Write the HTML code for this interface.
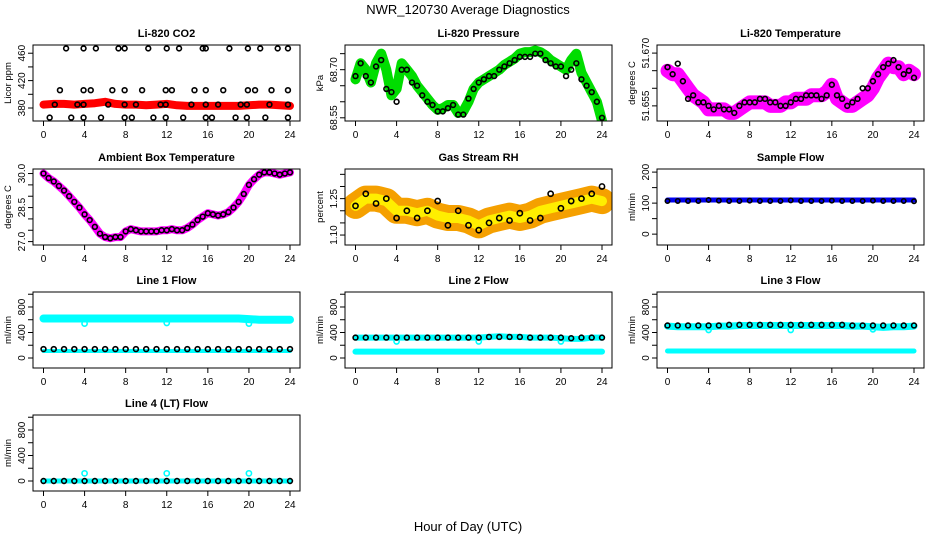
<!DOCTYPE html>
<html><head><meta charset="utf-8"><style>
body{margin:0;background:#fff;}
svg{display:block;font-family:"Liberation Sans",sans-serif;}
</style></head><body>
<svg id="c" width="936" height="540" viewBox="0 0 936 540">
<text x="468" y="14" text-anchor="middle" font-size="13">NWR_120730  Average Diagnostics</text>
<text x="468" y="531" text-anchor="middle" font-size="13">Hour of Day (UTC)</text>
</svg>
<script>
const hours=[0,1,2,3,4,5,6,7,8,9,10,11,12,13,14,15,16,17,18,19,20,21,22,23,24];
const halfHours=[0,0.5,1,1.5,2,2.5,3,3.5,4,4.5,5,5.5,6,6.5,7,7.5,8,8.5,9,9.5,10,10.5,11,11.5,12,12.5,13,13.5,14,14.5,15,15.5,16,16.5,17,17.5,18,18.5,19,19.5,20,20.5,21,21.5,22,22.5,23,23.5,24];
const xTicks=[0,4,8,12,16,20,24];
// CO2
const co2Red=[385,386,386,385,386,387,389,386,385,385,384,385,386,384,383,383,383,383,383,383,384,385,385,384,383];
const co2BlackHours=[2.2,3.9,5.1,7.3,7.9,10.2,12,13.2,15.5,15.8,18.1,19.9,21.1,22.8,23.8,1.6,3.9,4.6,6.7,7.9,9.6,11.9,12.5,14.7,15.8,17.5,19.9,20.6,22.2,23.8,1.1,3.3,3.9,6.3,7.9,9,11.4,11.9,14.4,15.8,17,19.2,19.8,22,23.8,0.6,2.7,3.9,5.6,7.9,8.6,10.7,11.9,13.6,15.8,16.4,18.7,19.8,21.6,23.8];
const co2BlackVals=[467,467,467,467,467,467,467,467,467,467,467,467,467,467,467,406,406,406,406,406,406,406,406,406,406,406,406,406,406,406,385,385,385,385,385,385,385,385,385,385,385,385,385,385,385,366,366,366,366,366,366,366,366,366,366,366,366,366,366,366];
// Pressure
const presGreen=[68.67,68.72,68.70,68.66,68.72,68.75,68.70,68.62,68.64,68.72,68.70,68.68,68.65,68.63,68.61,68.59,68.575,68.58,68.59,68.59,68.565,68.57,68.60,68.64,68.66,68.67,68.68,68.69,68.70,68.715,68.725,68.735,68.75,68.755,68.755,68.76,68.755,68.745,68.73,68.72,68.71,68.70,68.73,68.75,68.69,68.66,68.63,68.60,68.54];
const presBlack=[68.68,68.72,68.68,68.66,68.71,68.73,68.64,68.63,68.60,68.70,68.70,68.66,68.65,68.62,68.60,68.59,68.57,68.57,68.58,68.59,68.56,68.56,68.61,68.64,68.66,68.67,68.68,68.68,68.70,68.71,68.72,68.73,68.74,68.74,68.74,68.75,68.75,68.73,68.72,68.71,68.71,68.68,68.70,68.72,68.67,68.65,68.63,68.60,68.55];
// Li-820 temperature
const ltMag=[51.665,51.664,51.664,51.662,51.660,51.658,51.657,51.656,51.654,51.654,51.654,51.654,51.653,51.653,51.654,51.655,51.656,51.656,51.656,51.656,51.655,51.655,51.655,51.656,51.656,51.657,51.657,51.657,51.658,51.658,51.658,51.659,51.661,51.657,51.656,51.655,51.655,51.656,51.657,51.658,51.660,51.663,51.665,51.667,51.666,51.666,51.664,51.665,51.664];
const ltBlack=[51.666,51.664,51.667,51.662,51.657,51.658,51.656,51.656,51.655,51.654,51.655,51.654,51.654,51.653,51.655,51.656,51.656,51.656,51.657,51.657,51.656,51.656,51.655,51.655,51.656,51.657,51.657,51.658,51.658,51.658,51.657,51.658,51.661,51.658,51.657,51.655,51.656,51.657,51.660,51.660,51.662,51.664,51.666,51.667,51.668,51.666,51.664,51.665,51.663];
// Ambient
const ambMag=[30.0,29.8,29.65,29.45,29.25,29.0,28.75,28.5,28.2,27.95,27.65,27.35,27.2,27.15,27.2,27.2,27.45,27.55,27.5,27.45,27.45,27.45,27.45,27.5,27.5,27.55,27.5,27.5,27.6,27.75,27.95,28.1,28.25,28.2,28.15,28.2,28.3,28.5,28.75,29.1,29.5,29.75,29.95,30.05,30.05,30.0,29.95,30.0,30.05];
// RH
const rhOrange=[1.22,1.25,1.25,1.24,1.20,1.20,1.19,1.20,1.18,1.17,1.17,1.16,1.14,1.16,1.17,1.18,1.17,1.18,1.20,1.21,1.22,1.23,1.24,1.25,1.24];
const rhBlack=[1.22,1.27,1.23,1.25,1.17,1.20,1.17,1.20,1.24,1.14,1.20,1.14,1.12,1.15,1.17,1.16,1.19,1.16,1.17,1.27,1.21,1.24,1.25,1.27,1.30];
// Flows
const sampleBlue=[110,110,110,110,110,110,110,110,110,110,110,110,110,110,110,110,110,110,110,110,110,110,110,110,110];
const sampleBlack=[107,107,107,107,110,108,107,107,108,107,107,107,109,107,107,107,108,107,107,107,108,107,107,107,106];
const l1High=[620,620,620,620,620,620,620,620,620,620,620,620,620,620,620,620,620,620,620,620,610,600,600,600,600];
const l1Low=[110,110,110,110,110,110,110,110,110,110,110,110,110,110,110,110,110,110,110,110,110,110,110,110,110];
const l1Black=[140,140,140,140,140,140,140,140,140,140,140,140,140,140,140,140,140,140,140,140,140,140,140,140,140];
const l2High=[320,320,320,320,320,320,320,320,320,320,320,320,320,330,340,330,330,320,320,320,310,300,300,320,320];
const l2Low=[100,100,100,100,100,100,100,100,100,100,100,100,100,100,100,100,100,100,100,100,100,100,100,100,100];
const l2Black=[320,320,320,320,320,320,320,320,320,320,320,320,320,330,330,330,330,320,320,320,320,310,320,320,320];
const l3High=[500,490,490,490,490,500,500,510,510,510,510,510,510,510,510,510,510,510,500,500,490,480,490,490,500];
const l3Low=[110,110,110,110,110,110,110,110,110,110,110,110,110,110,110,110,110,110,110,110,110,110,110,110,110];
const l3Black=[510,510,510,510,510,510,520,520,520,520,520,520,520,520,520,520,520,520,510,510,510,510,510,510,510];
const l4Cyan=[0,0,0,0,0,0,0,0,0,0,0,0,0,0,0,0,0,0,0,0,0,0,0,0,0];
const l4Black=[0,0,0,0,0,0,0,0,0,0,0,0,0,0,0,0,0,0,0,0,0,0,0,0,0];
const spikeHours=[4,12,20];
const l1Spike=[540,550,540];
const l2Spike=[260,260,260];
const l3Spike=[440,440,450];
const l4Spike=[120,120,120];

const NS="http://www.w3.org/2000/svg";
const svg=document.getElementById('c');
function el(tag,attrs,parent){const e=document.createElementNS(NS,tag);for(const k in attrs)e.setAttribute(k,attrs[k]);(parent||svg).appendChild(e);return e;}
const colL=[33,345,657],rowT=[45,169,292,415],W=267,H=76;
function panel(col,row,title,ylab,ymin,ymax,ticks,labels,name){
  const L=colL[col],T=rowT[row];
  const g=el('g',{});
  
  
  const xs=h=>L+10.5+h*(246.5/24);
  const ys=v=>T+H-(v-ymin)/(ymax-ymin)*H;
  const t=el('text',{x:L+W/2,y:T-8,'text-anchor':'middle','font-size':11,'font-weight':'bold'},g);t.textContent=title;
  
  
  const yl=el('text',{x:0,y:0,'text-anchor':'middle','font-size':9.5,transform:`translate(${L-22},${T+H/2}) rotate(-90)`},g);yl.textContent=ylab;
  
  
  const ax=el('g',{stroke:'#000','stroke-width':1},g);
  
  
  xTicks.forEach(h=>{const x=xs(h);el('line',{x1:x,x2:x,y1:T+H,y2:T+H+5},ax);
    const lt=el('text',{x:x,y:T+H+17,'text-anchor':'middle','font-size':10,stroke:'none'},g);lt.textContent=h;
    
    });
  ticks.forEach((v,i)=>{const y=ys(v);el('line',{x1:L-5,x2:L,y1:y,y2:y},ax);
    if(labels[i]!==''){const lt=el('text',{x:0,y:0,'text-anchor':'middle','font-size':10,transform:`translate(${L-8},${y}) rotate(-90)`},g);lt.textContent=labels[i];
    
    }});
  const cp='cp'+name;
  const d=el('clipPath',{id:cp},g);el('rect',{x:L,y:T,width:W,height:H},d);
  const plot=el('g',{'clip-path':`url(#${cp})`},g);
  const box=el('rect',{x:L,y:T,width:W,height:H,fill:'none',stroke:'#000','stroke-width':1},g);
  
  
  return {plot,xs,ys};
}
function band(p,hs,vals,color,w,name){
  const pts=hs.map((h,i)=>p.xs(h).toFixed(1)+','+p.ys(vals[i]).toFixed(1)).join(' ');
  const pl=el('polyline',{points:pts,fill:'none',stroke:color,'stroke-width':w,'stroke-linejoin':'round','stroke-linecap':'round'},p.plot);
  
  
}
function pts(p,hs,vals,color,r,name){
  hs.forEach((h,i)=>{const c=el('circle',{cx:p.xs(h),cy:p.ys(vals[i]),r:r,fill:'none',stroke:color,'stroke-width':1.6},p.plot);
    
    });
}
// Row 1
let p=panel(0,0,'Li-820 CO2','Licor ppm',361,472,[380,400,420,440,460],['380','','420','','460'],'co2');
band(p,hours,co2Red,'#ff0000',8,'co2-red-series');
pts(p,co2BlackHours,co2BlackVals,'#000',2.4,'co2-black-point');
p=panel(1,0,'Li-820 Pressure','kPa',68.54,68.777,[68.55,68.60,68.65,68.70,68.75],['68.55','','','68.70',''],'pressure');
band(p,halfHours,presGreen,'#00dd00',10,'pressure-green-series');
pts(p,halfHours,presBlack,'#000',2.4,'pressure-black-point');
p=panel(2,0,'Li-820 Temperature','degrees C',51.6507,51.6723,[51.655,51.660,51.665,51.670],['51.655','','','51.670'],'li820-temp');
band(p,halfHours,ltMag,'#ff00ff',14,'li820-temp-magenta-series');
pts(p,halfHours,ltBlack,'#000',2.4,'li820-temp-black-point');
// Row 2
p=panel(0,1,'Ambient Box Temperature','degrees C',26.85,30.2,[27.0,27.5,28.0,28.5,29.0,29.5,30.0],['27.0','','','28.5','','','30.0'],'ambient');
band(p,halfHours,ambMag,'#ff00ff',8,'ambient-magenta-series');
pts(p,halfHours,ambMag,'#000',2.4,'ambient-black-point');
p=panel(1,1,'Gas Stream RH','percent',1.059,1.372,[1.10,1.15,1.20,1.25,1.30,1.35],['1.10','','','1.25','',''],'rh');
band(p,hours,rhOrange,'#f5a000',26,'rh-orange-series');
band(p,hours,rhOrange,'#ffee00',10,'rh-yellow-series');
pts(p,hours,rhBlack,'#000',2.6,'rh-black-point');
p=panel(2,1,'Sample Flow','ml/min',-35,210,[0,50,100,150,200],['0','','100','','200'],'sample-flow');
band(p,hours,sampleBlue,'#0000ee',5,'sample-flow-blue-series');
pts(p,hours,sampleBlack,'#000',2.2,'sample-flow-black-point');
// Row 3-4 flows
const fT=[0,200,400,600,800,1000],fL=['0','','400','','800',''];
p=panel(0,2,'Line 1 Flow','ml/min',-157,1035,fT,fL,'line1');
band(p,hours,l1High,'#00ffff',8,'line1-high-series');
band(p,hours,l1Low,'#00ffff',4,'line1-low-series');
pts(p,spikeHours,l1Spike,'#00ffff',2.6,'line1-spike-point');
pts(p,hours,l1Black,'#000',2.4,'line1-black-point');
p=panel(1,2,'Line 2 Flow','ml/min',-157,1035,fT,fL,'line2');
band(p,hours,l2High,'#00ffff',6,'line2-high-series');
band(p,hours,l2Low,'#00ffff',6,'line2-low-series');
pts(p,spikeHours,l2Spike,'#00ffff',2.6,'line2-spike-point');
pts(p,hours,l2Black,'#000',2.4,'line2-black-point');
p=panel(2,2,'Line 3 Flow','ml/min',-157,1035,fT,fL,'line3');
band(p,hours,l3High,'#00ffff',7,'line3-high-series');
band(p,hours,l3Low,'#00ffff',5,'line3-low-series');
pts(p,spikeHours,l3Spike,'#00ffff',2.6,'line3-spike-point');
pts(p,hours,l3Black,'#000',2.4,'line3-black-point');
p=panel(0,3,'Line 4 (LT) Flow','ml/min',-157,1035,fT,fL,'line4');
band(p,hours,l4Cyan,'#00ffff',5,'line4-cyan-series');
pts(p,spikeHours,l4Spike,'#00ffff',2.6,'line4-spike-point');
pts(p,hours,l4Black,'#000',2.4,'line4-black-point');
</script>
</body></html>
